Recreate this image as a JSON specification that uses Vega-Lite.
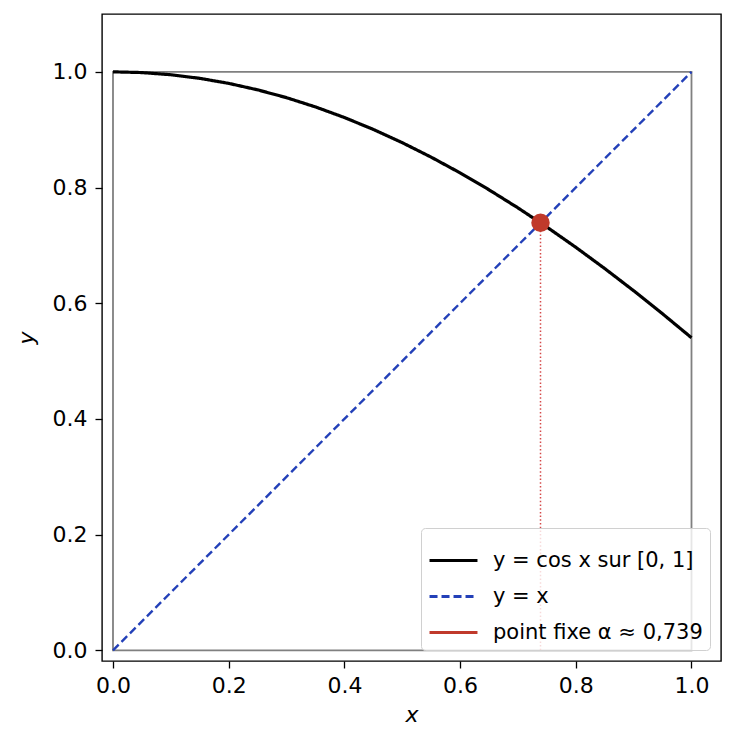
{
  "$schema": "https://vega.github.io/schema/vega-lite/v6.json",
  "autosize": {"type": "none"},
  "padding": {"left": 102, "top": 14, "right": 14, "bottom": 88},
  "width": 619,
  "height": 647,
  "background": "white",
  "config": {
    "font": "DejaVu Sans",
    "view": {"stroke": "black", "strokeWidth": 1.4},
    "axis": {
      "domain": false,
      "grid": false,
      "ticks": true,
      "tickColor": "black",
      "tickWidth": 1.3,
      "tickSize": 7,
      "labelFont": "DejaVu Sans",
      "labelFontSize": 22,
      "labelColor": "black",
      "titleFont": "DejaVu Sans",
      "titleFontSize": 22,
      "titleFontWeight": "normal",
      "titleFontStyle": "italic",
      "titleColor": "black"
    },
    "legend": {
      "orient": "bottom-right",
      "offset": 11,
      "padding": 7,
      "fillColor": "rgba(255,255,255,0.8)",
      "strokeColor": "#d0d0d0",
      "cornerRadius": 4,
      "labelFont": "DejaVu Sans",
      "labelFontSize": 21,
      "labelColor": "black",
      "labelOffset": 14,
      "labelLimit": 400,
      "rowPadding": -2,
      "symbolType": "stroke",
      "symbolSize": 2300,
      "symbolStrokeWidth": 3,
      "symbolOpacity": 1
    }
  },
  "datasets": {
    "courbe": [
      {"x": 0.0, "y": 1.0, "serie": "y = cos x sur [0, 1]"},
      {"x": 0.05, "y": 0.99875, "serie": "y = cos x sur [0, 1]"},
      {"x": 0.1, "y": 0.995, "serie": "y = cos x sur [0, 1]"},
      {"x": 0.15, "y": 0.98877, "serie": "y = cos x sur [0, 1]"},
      {"x": 0.2, "y": 0.98007, "serie": "y = cos x sur [0, 1]"},
      {"x": 0.25, "y": 0.96891, "serie": "y = cos x sur [0, 1]"},
      {"x": 0.3, "y": 0.95534, "serie": "y = cos x sur [0, 1]"},
      {"x": 0.35, "y": 0.93937, "serie": "y = cos x sur [0, 1]"},
      {"x": 0.4, "y": 0.92106, "serie": "y = cos x sur [0, 1]"},
      {"x": 0.45, "y": 0.90045, "serie": "y = cos x sur [0, 1]"},
      {"x": 0.5, "y": 0.87758, "serie": "y = cos x sur [0, 1]"},
      {"x": 0.55, "y": 0.85252, "serie": "y = cos x sur [0, 1]"},
      {"x": 0.6, "y": 0.82534, "serie": "y = cos x sur [0, 1]"},
      {"x": 0.65, "y": 0.79608, "serie": "y = cos x sur [0, 1]"},
      {"x": 0.7, "y": 0.76484, "serie": "y = cos x sur [0, 1]"},
      {"x": 0.75, "y": 0.73169, "serie": "y = cos x sur [0, 1]"},
      {"x": 0.8, "y": 0.69671, "serie": "y = cos x sur [0, 1]"},
      {"x": 0.85, "y": 0.65998, "serie": "y = cos x sur [0, 1]"},
      {"x": 0.9, "y": 0.62161, "serie": "y = cos x sur [0, 1]"},
      {"x": 0.95, "y": 0.58168, "serie": "y = cos x sur [0, 1]"},
      {"x": 1.0, "y": 0.5403, "serie": "y = cos x sur [0, 1]"}
    ],
    "diagonale": [
      {"x": 0.0, "y": 0.0, "serie": "y = x"},
      {"x": 1.0, "y": 1.0, "serie": "y = x"}
    ],
    "pointfixe": [
      {"x": 0.739, "y": 0.739, "y0": 0.0, "serie": "point fixe α ≈ 0,739"}
    ],
    "carre": [
      {"x": 0.0, "x2": 1.0, "y": 0.0, "y2": 1.0}
    ]
  },
  "layer": [
    {
      "data": {"name": "carre"},
      "mark": {"type": "rect", "fill": null, "fillOpacity": 0, "stroke": "#808080", "strokeWidth": 1.8},
      "encoding": {
        "x": {"field": "x", "type": "quantitative", "scale": {"domain": [-0.019, 1.051], "nice": false, "zero": false},
              "axis": {"values": [0, 0.2, 0.4, 0.6, 0.8, 1.0], "format": ".1f", "title": "x", "labelPadding": 7, "titlePadding": 8}},
        "x2": {"field": "x2"},
        "y": {"field": "y", "type": "quantitative", "scale": {"domain": [-0.0185, 1.1], "nice": false, "zero": false},
              "axis": {"values": [0, 0.2, 0.4, 0.6, 0.8, 1.0], "format": ".1f", "title": "y", "labelPadding": 8, "titlePadding": 14}},
        "y2": {"field": "y2"}
      }
    },
    {
      "data": {"name": "courbe"},
      "mark": {"type": "line", "strokeWidth": 3.2, "strokeCap": "butt"},
      "encoding": {
        "x": {"field": "x", "type": "quantitative"},
        "y": {"field": "y", "type": "quantitative"},
        "color": {
          "field": "serie",
          "type": "nominal",
          "scale": {
            "domain": ["y = cos x sur [0, 1]", "y = x", "point fixe α ≈ 0,739"],
            "range": ["black", "#2340b8", "#c0392b"]
          },
          "legend": {"title": null}
        },
        "strokeDash": {
          "field": "serie",
          "type": "nominal",
          "scale": {
            "domain": ["y = cos x sur [0, 1]", "y = x", "point fixe α ≈ 0,739"],
            "range": [[1, 0], [8, 4], [1, 0]]
          },
          "legend": {"title": null}
        }
      }
    },
    {
      "data": {"name": "diagonale"},
      "mark": {"type": "line", "strokeWidth": 2.4},
      "encoding": {
        "x": {"field": "x", "type": "quantitative"},
        "y": {"field": "y", "type": "quantitative"},
        "color": {"field": "serie", "type": "nominal"},
        "strokeDash": {"field": "serie", "type": "nominal"}
      }
    },
    {
      "data": {"name": "pointfixe"},
      "mark": {"type": "rule", "color": "#d03535", "strokeWidth": 1.5, "strokeDash": [1.5, 2.2], "opacity": 0.9},
      "encoding": {
        "x": {"field": "x", "type": "quantitative"},
        "y": {"field": "y0", "type": "quantitative"},
        "y2": {"field": "y"}
      }
    },
    {
      "data": {"name": "pointfixe"},
      "mark": {"type": "point", "filled": true, "shape": "circle", "size": 340, "opacity": 1},
      "encoding": {
        "x": {"field": "x", "type": "quantitative"},
        "y": {"field": "y", "type": "quantitative"},
        "color": {"field": "serie", "type": "nominal"}
      }
    }
  ]
}
